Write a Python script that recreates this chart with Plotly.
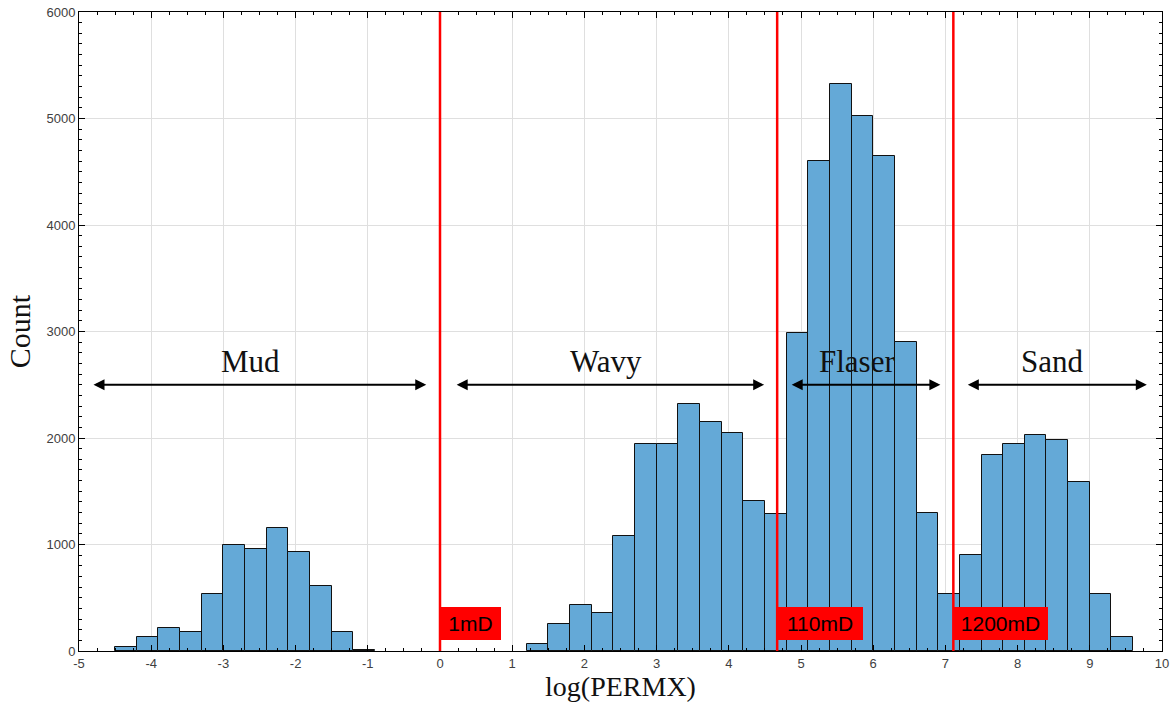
import plotly.graph_objects as go

# ---- data ----
bin_centers = [-4.35, -4.05, -3.75, -3.45, -3.15, -2.85, -2.55, -2.25, -1.95, -1.65, -1.35, -1.05,
               1.35, 1.65, 1.95, 2.25, 2.55, 2.85, 3.15, 3.45, 3.75, 4.05, 4.35, 4.65,
               4.95, 5.25, 5.55, 5.85, 6.15, 6.45, 6.75,
               7.05, 7.35, 7.65, 7.95, 8.25, 8.55, 8.85, 9.15, 9.45]
counts = [33, 133, 218, 177, 536, 996, 955, 1156, 933, 614, 177, 11,
          67, 255, 430, 358, 1083, 1944, 1944, 2315, 2146, 2043, 1405, 1283,
          2990, 4604, 5323, 5020, 4650, 2903, 1296,
          539, 899, 1837, 1947, 2024, 1984, 1587, 539, 136]
bin_width = 0.3

cutoff_x = [0.0, 4.67, 7.11]
cutoff_labels = ["1mD", "110mD", "1200mD"]
cutoff_box_w = [55, 80, 89]

facies_names = ["Mud", "Wavy", "Flaser", "Sand"]
facies_label_x = [-2.62, 2.30, 5.78, 8.48]
facies_arrow_start = [-4.82, 0.21, 4.85, 7.29]
facies_arrow_end = [-0.19, 4.49, 6.93, 9.79]
arrow_y = 2500
label_y = 2720
cutoff_label_y = 260

x_ticks = list(range(-5, 11))
x_ticktext = [str(v) for v in x_ticks]
y_ticks = [0, 1000, 2000, 3000, 4000, 5000, 6000]
y_ticktext = [str(v) for v in y_ticks]

fig = go.Figure()
fig.add_trace(go.Bar(
    x=bin_centers, y=counts, width=bin_width,
    marker=dict(color="#64A9D7", line=dict(color="#111111", width=1)),
    showlegend=False,
))

for xv in cutoff_x:
    fig.add_shape(type="line", xref="x", yref="paper", x0=xv, x1=xv, y0=0, y1=1,
                  line=dict(color="#FF0000", width=2.5), layer="above")

for xv, lab, w in zip(cutoff_x, cutoff_labels, cutoff_box_w):
    fig.add_annotation(x=xv, y=cutoff_label_y, xref="x", yref="y", text=lab,
                       showarrow=False, xanchor="left", yanchor="middle",
                       bgcolor="#FF0000", borderpad=2, borderwidth=1, bordercolor="#FF0000",
                       width=w, height=27, align="center",
                       font=dict(family="Liberation Sans, Arial", size=21, color="black"))

for name, lx, xs, xe in zip(facies_names, facies_label_x, facies_arrow_start, facies_arrow_end):
    fig.add_annotation(x=xe, y=arrow_y, ax=xs, ay=arrow_y, xref="x", yref="y",
                       axref="x", ayref="y", text="", showarrow=True,
                       arrowhead=2, arrowsize=1, arrowwidth=2.2, arrowcolor="black",
                       arrowside="end+start", standoff=0, startstandoff=0)
    fig.add_annotation(x=lx, y=label_y, xref="x", yref="y", text=name, showarrow=False,
                       font=dict(family="Liberation Serif, Times New Roman", size=31, color="#111111"))

axis_common = dict(
    showline=True, linecolor="black", linewidth=1, mirror="allticks",
    ticks="inside", ticklen=6, tickcolor="black",
    showgrid=True, gridcolor="#DFDFDF", gridwidth=1, zeroline=False,
    tickfont=dict(family="Liberation Sans, Arial", size=13, color="#404040"),
)

fig.update_xaxes(range=[-5, 10], tickvals=x_ticks, ticktext=x_ticktext,
                 minor=dict(dtick=0.25, tick0=0, ticks="inside", ticklen=3, tickcolor="black", showgrid=False),
                 title=dict(text="log(PERMX)", standoff=6,
                            font=dict(family="Liberation Serif, Times New Roman", size=28, color="#111111")),
                 **axis_common)
fig.update_yaxes(range=[0, 6000], tickvals=y_ticks, ticktext=y_ticktext,
                 minor=dict(dtick=100, tick0=0, ticks="inside", ticklen=3, tickcolor="black", showgrid=False),
                 title=dict(text="Count", standoff=6,
                            font=dict(family="Liberation Serif, Times New Roman", size=30, color="#111111")),
                 **axis_common)

fig.update_layout(
    width=1173, height=713,
    margin=dict(l=79, r=11, t=12, b=62, autoexpand=False),
    plot_bgcolor="white", paper_bgcolor="white",
    bargap=0,
)

fig.write_html("out.html")
